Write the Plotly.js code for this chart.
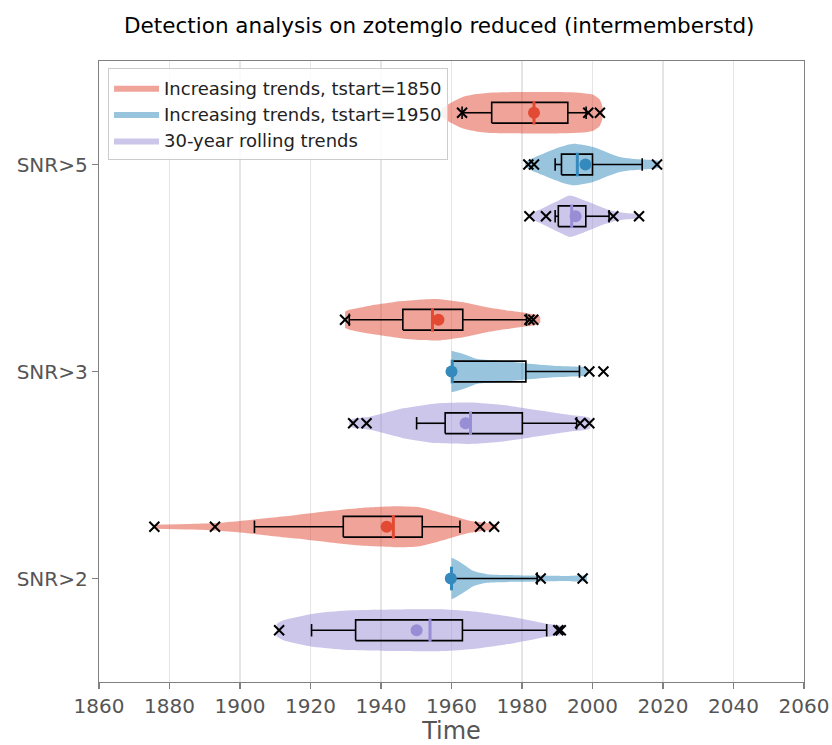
<!DOCTYPE html>
<html>
<head>
<meta charset="utf-8">
<script src="https://cdn.plot.ly/plotly-3.0.1.min.js"></script>
<style>html,body{margin:0;padding:0;background:#fff;}#chart{width:832px;height:745px;}</style>
</head>
<body>
<div id="chart"></div>
<script>
// Categories (bottom to top) and tick labels
const groupLabels = ['SNR>2', 'SNR>3', 'SNR>5'];
const groupPos = [0, 1, 2];
const seriesNames = ['Increasing trends, tstart=1850', 'Increasing trends, tstart=1950', '30-year rolling trends'];
const seriesColors = ['#E24A33', '#348ABD', '#988ED5'];
const seriesFill = ['rgba(226,74,51,0.5)', 'rgba(52,138,189,0.5)', 'rgba(152,142,213,0.5)'];
const seriesOffset = [0.25, 0, -0.25];

// Box statistics per series, ordered [SNR>2, SNR>3, SNR>5]
const red_q1 = [1929.3, 1946.2, 1971.4];
const red_median = [1943.5, 1954.6, 1983.4];
const red_q3 = [1951.7, 1963.2, 1993.0];
const red_whiskerLow = [1904.1, 1931.0, 1963.0];
const red_whiskerHigh = [1962.4, 1981.3, 1998.2];
const red_mean = [1941.6, 1956.3, 1983.4];
const red_outliers = [[1875.7, 1892.9, 1968.1, 1972.1], [1929.8, 1982.1, 1983.2], [1963.0, 1998.8, 2002.1]];

const blue_q1 = [1960.0, 1960.2, 1991.2];
const blue_median = [1960.0, 1960.2, 1995.7];
const blue_q3 = [1960.0, 1981.1, 2000.0];
const blue_whiskerLow = [1960.0, 1960.2, 1989.4];
const blue_whiskerHigh = [1984.3, 1996.3, 2014.1];
const blue_mean = [1959.8, 1960.0, 1998.0];
const blue_outliers = [[1985.3, 1997.2], [1999.1, 2003.1], [1981.8, 1983.4, 2018.3]];

const purple_q1 = [1932.8, 1958.2, 1990.3];
const purple_median = [1953.9, 1965.4, 1994.1];
const purple_q3 = [1963.1, 1980.1, 1998.1];
const purple_whiskerLow = [1920.3, 1950.1, 1989.4];
const purple_whiskerHigh = [1987.0, 1995.5, 2004.7];
const purple_mean = [1950.1, 1964.0, 1995.2];
const purple_outliers = [[1911.1, 1990.3, 1991.0], [1932.1, 1935.9, 1996.5, 1999.1], [1982.1, 1986.8, 2005.9, 2013.2]];

// Violin density profiles (year, relative half-width)
const red_kdeYears = [
  [1875.7, 1885, 1893, 1900, 1905, 1916, 1925.5, 1935, 1944.5, 1951, 1958.6, 1965.2, 1971.9, 1973],
  [1929.8, 1931, 1937, 1946, 1952, 1956, 1963.4, 1970, 1975.7, 1981.3, 1984, 1985.1],
  [1957.2, 1960, 1963, 1967, 1972, 1980, 1990, 1996, 2000, 2002, 2002.8]
];
const red_kdeWidth = [
  [0.1, 0.13, 0.18, 0.28, 0.37, 0.57, 0.76, 0.92, 0.99, 0.94, 0.6, 0.29, 0.13, 0.05],
  [0.4, 0.48, 0.68, 0.9, 0.98, 1.0, 0.84, 0.6, 0.45, 0.32, 0.25, 0.15],
  [0.2, 0.5, 0.75, 0.9, 0.98, 1.0, 1.0, 0.97, 0.88, 0.65, 0.3]
];
const blue_kdeYears = [
  [1960, 1961.5, 1963.4, 1966.2, 1970, 1977.6, 1985.1, 1991.7, 1998.3],
  [1960, 1963.4, 1967.2, 1973.8, 1981.3, 1988.9, 1996.5, 1998.5],
  [1980.9, 1982.3, 1986, 1990.8, 1994.6, 2000.2, 2005, 2007.8, 2011, 2014.4, 2019]
];
const blue_kdeWidth = [
  [1.0, 0.88, 0.68, 0.37, 0.21, 0.16, 0.14, 0.12, 0.12],
  [1.0, 0.84, 0.6, 0.52, 0.39, 0.28, 0.23, 0.2],
  [0.1, 0.25, 0.52, 0.84, 1.0, 0.84, 0.52, 0.36, 0.28, 0.24, 0.15]
];
const purple_kdeYears = [
  [1910.4, 1912.3, 1920.8, 1930.3, 1944.5, 1958.6, 1968.1, 1977.6, 1987, 1991.3],
  [1931, 1932.1, 1936.9, 1946.3, 1955.8, 1965.2, 1974.7, 1984.2, 1993.6, 1999.3],
  [1982, 1986, 1990.8, 1993.6, 1998.4, 2003.1, 2005.9, 2009.7, 2013.5]
];
const purple_kdeWidth = [
  [0.3, 0.48, 0.8, 0.95, 1.0, 1.0, 0.87, 0.63, 0.32, 0.2],
  [0.15, 0.22, 0.32, 0.72, 0.96, 1.0, 0.88, 0.64, 0.4, 0.25],
  [0.1, 0.4, 0.8, 1.0, 0.72, 0.4, 0.25, 0.15, 0.1]
];

const xTickVals = [1860, 1880, 1900, 1920, 1940, 1960, 1980, 2000, 2020, 2040, 2060];

const series = [
  {q1: red_q1, med: red_median, q3: red_q3, wlo: red_whiskerLow, whi: red_whiskerHigh, mean: red_mean, out: red_outliers, ky: red_kdeYears, kw: red_kdeWidth},
  {q1: blue_q1, med: blue_median, q3: blue_q3, wlo: blue_whiskerLow, whi: blue_whiskerHigh, mean: blue_mean, out: blue_outliers, ky: blue_kdeYears, kw: blue_kdeWidth},
  {q1: purple_q1, med: purple_median, q3: purple_q3, wlo: purple_whiskerLow, whi: purple_whiskerHigh, mean: purple_mean, out: purple_outliers, ky: purple_kdeYears, kw: purple_kdeWidth}
];

const VW = 0.1;   // violin max half-width
const BH = 0.05;  // box half-height
const CH = 0.03;  // whisker cap half-height
const MH = 0.057; // median half-height

const traces = [];
// violins
series.forEach((s, si) => {
  groupPos.forEach((g, gi) => {
    const p = g + seriesOffset[si];
    const yrs = s.ky[gi], w = s.kw[gi];
    const xs = yrs.concat(yrs.slice().reverse());
    const ys = yrs.map((_, i) => p + w[i] * VW).concat(yrs.map((_, i) => p - w[i] * VW).reverse());
    traces.push({
      type: 'scatter', mode: 'lines', x: xs, y: ys, fill: 'toself',
      fillcolor: seriesFill[si], line: {width: 0, color: seriesFill[si], shape: 'spline', smoothing: 0.6},
      name: seriesNames[si], legendgroup: 's' + si, showlegend: gi === 0, hoverinfo: 'skip'
    });
  });
});
// boxes, whiskers, caps
series.forEach((s, si) => {
  const xs = [], ys = [];
  groupPos.forEach((g, gi) => {
    const p = g + seriesOffset[si];
    xs.push(s.q1[gi], s.q3[gi], s.q3[gi], s.q1[gi], s.q1[gi], null);
    ys.push(p - BH, p - BH, p + BH, p + BH, p - BH, null);
    xs.push(s.wlo[gi], s.q1[gi], null, s.q3[gi], s.whi[gi], null);
    ys.push(p, p, null, p, p, null);
    xs.push(s.wlo[gi], s.wlo[gi], null, s.whi[gi], s.whi[gi], null);
    ys.push(p - CH, p + CH, null, p - CH, p + CH, null);
  });
  traces.push({type: 'scatter', mode: 'lines', x: xs, y: ys, line: {color: '#000', width: 1.6}, showlegend: false, hoverinfo: 'skip'});
});
// medians
series.forEach((s, si) => {
  const xs = [], ys = [];
  groupPos.forEach((g, gi) => {
    const p = g + seriesOffset[si];
    xs.push(s.med[gi], s.med[gi], null);
    ys.push(p - MH, p + MH, null);
  });
  traces.push({type: 'scatter', mode: 'lines', x: xs, y: ys, line: {color: seriesColors[si], width: 3}, showlegend: false, hoverinfo: 'skip'});
});
// means
series.forEach((s, si) => {
  traces.push({type: 'scatter', mode: 'markers', x: s.mean, y: groupPos.map(g => g + seriesOffset[si]),
    marker: {color: seriesColors[si], size: 12, line: {width: 0}}, showlegend: false, hoverinfo: 'skip'});
});
// outliers
series.forEach((s, si) => {
  const xs = [], ys = [];
  groupPos.forEach((g, gi) => {
    s.out[gi].forEach(v => { xs.push(v); ys.push(g + seriesOffset[si]); });
  });
  traces.push({type: 'scatter', mode: 'markers', x: xs, y: ys,
    marker: {symbol: 'x-thin', size: 10, line: {color: '#000', width: 2}}, showlegend: false, hoverinfo: 'skip'});
});

const layout = {
  width: 832, height: 745,
  margin: {l: 99, r: 28, t: 61, b: 63, pad: 0},
  paper_bgcolor: '#fff', plot_bgcolor: '#fff',
  font: {family: 'DejaVu Sans', color: '#555'},
  title: {text: 'Detection analysis on zotemglo reduced (intermemberstd)', font: {family: 'DejaVu Sans', size: 21.5, color: '#000'},
    x: 0.528, xref: 'container', xanchor: 'center', y: 0.966, yref: 'container', yanchor: 'middle'},
  xaxis: {range: [1860, 2060], tickvals: xTickVals, ticktext: xTickVals.map(String),
    showgrid: true, gridcolor: '#e5e5e5', gridwidth: 1.5, zeroline: false,
    showline: true, linecolor: '#808080', linewidth: 1.3, mirror: true,
    ticks: 'outside', ticklen: 6, tickwidth: 1.3, tickcolor: '#808080',
    tickfont: {size: 20, color: '#555'},
    title: {text: 'Time', font: {size: 24, color: '#555'}, standoff: 12}},
  yaxis: {range: [-0.5, 2.5], tickvals: groupPos, ticktext: groupLabels,
    showgrid: false, zeroline: false,
    showline: true, linecolor: '#808080', linewidth: 1.3, mirror: true,
    ticks: 'outside', ticklen: 6, tickwidth: 1.3, tickcolor: '#808080',
    tickfont: {size: 20, color: '#555'}},
  legend: {x: 0.0128, y: 0.988, xanchor: 'left', yanchor: 'top', bgcolor: 'rgba(255,255,255,0.85)',
    bordercolor: '#cccccc', borderwidth: 1, font: {size: 18, color: '#222'}, traceorder: 'normal', itemwidth: 45},
  showlegend: true
};

Plotly.newPlot('chart', traces, layout, {displayModeBar: false, staticPlot: true});
</script>
</body>
</html>
